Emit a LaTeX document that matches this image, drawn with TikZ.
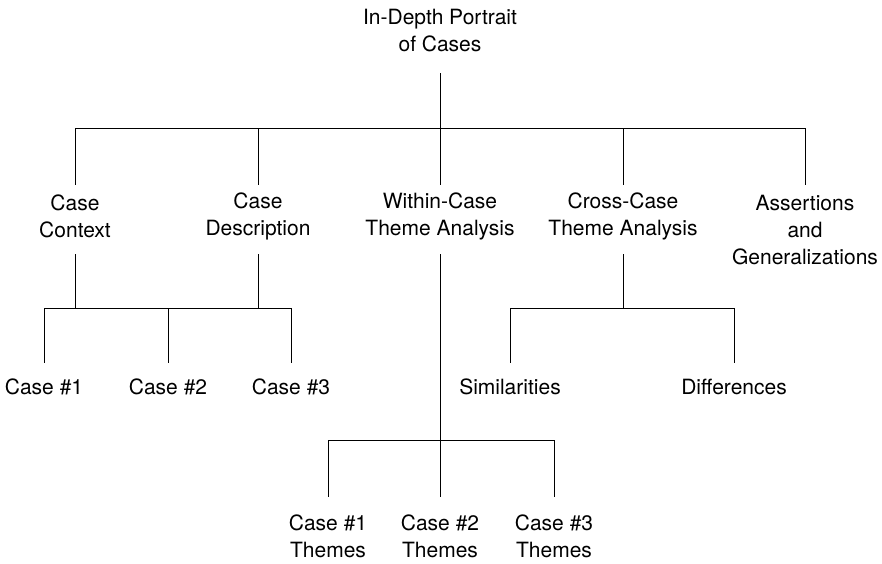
\documentclass[tikz,border=0pt]{standalone}
\usepackage{fontspec}
\setmainfont{TeX Gyre Heros}
\begin{document}
\begin{tikzpicture}
    [ x=0.5pt, y=-0.5pt
    , line width=0.5pt
    , label/.style={align=center, inner sep=0pt, font=\fontsize{10.5}{13.5}\selectfont}
    ]
\useasboundingbox (0,0) rectangle (882,563);
\node[label] (portrait) at (440,31) {In-Depth Portrait\\of Cases};
\node[label] (context) at (75,216.5) {Case\\Context};
\node[label] (description) at (258,216.5) {Case\\Description};
\node[label] (within) at (440,216.5) {Within-Case\\Theme Analysis};
\node[label] (cross) at (623,216.5) {Cross-Case\\Theme Analysis};
\node[label] (assertions) at (805,230) {Assertions\\and\\Generalizations};
\node[label] (case1) at (44,387) {Case \#1};
\node[label] (case2) at (168,387) {Case \#2};
\node[label] (case3) at (291,387) {Case \#3};
\node[label] (similar) at (510,387) {Similarities};
\node[label] (differ) at (734,387) {Differences};
\node[label] (themes1) at (328,536.5) {Case \#1\\Themes};
\node[label] (themes2) at (440,536.5) {Case \#2\\Themes};
\node[label] (themes3) at (554,536.5) {Case \#3\\Themes};

% rows where the lines start, turn and stop
\coordinate (rootend) at (440,73);
\coordinate (bar1) at (440,128);
\coordinate (over1) at (0,185);
\coordinate (under1) at (0,254);
\coordinate (bar2) at (0,308);
\coordinate (over2) at (0,363);
\coordinate (bar3) at (0,440);
\coordinate (over3) at (0,497);

\draw (portrait |- rootend) -- (bar1);
\draw (context |- bar1) -- (assertions |- bar1);
\draw (context |- bar1) -- (context |- over1);
\draw (description |- bar1) -- (description |- over1);
\draw (within |- bar1) -- (within |- over1);
\draw (cross |- bar1) -- (cross |- over1);
\draw (assertions |- bar1) -- (assertions |- over1);

\draw (context |- under1) -- (context |- bar2);
\draw (description |- under1) -- (description |- bar2);
\draw (case1 |- bar2) -- (case3 |- bar2);
\draw (case1 |- bar2) -- (case1 |- over2);
\draw (case2 |- bar2) -- (case2 |- over2);
\draw (case3 |- bar2) -- (case3 |- over2);

\draw (cross |- under1) -- (cross |- bar2);
\draw (similar |- bar2) -- (differ |- bar2);
\draw (similar |- bar2) -- (similar |- over2);
\draw (differ |- bar2) -- (differ |- over2);

\draw (within |- under1) -- (within |- bar3);
\draw (themes1 |- bar3) -- (themes3 |- bar3);
\draw (themes1 |- bar3) -- (themes1 |- over3);
\draw (themes2 |- bar3) -- (themes2 |- over3);
\draw (themes3 |- bar3) -- (themes3 |- over3);
\end{tikzpicture}
\end{document}
